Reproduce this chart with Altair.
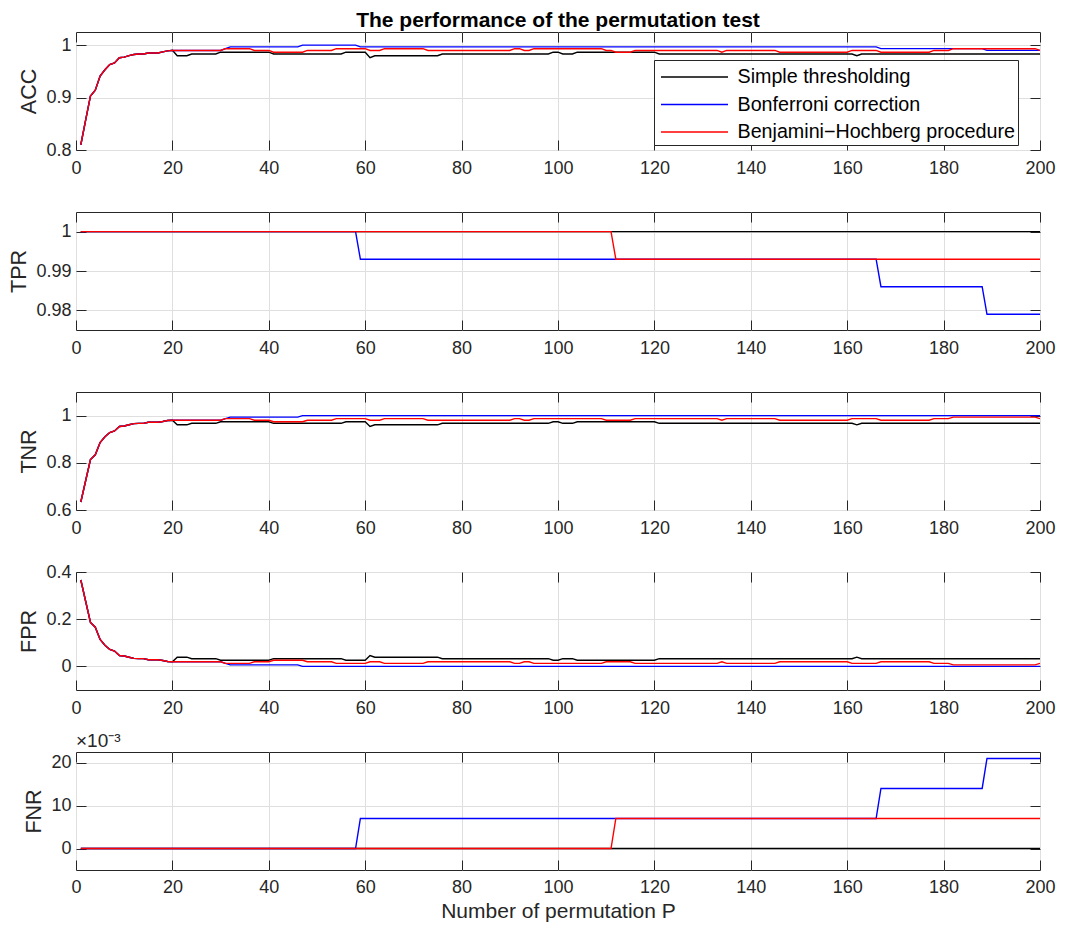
import altair as alt
import pandas as pd

FONT = "Liberation Sans"
SERIES = ["Simple thresholding", "Bonferroni correction", "Benjamini\u2212Hochberg procedure"]
COLORS = ["#000000", "#0000ff", "#ff0000"]
X_TICKS = [0, 20, 40, 60, 80, 100, 120, 140, 160, 180, 200]

# ---- shared early part (P = 1..20, all three methods coincide) ----
EARLY_P = [1, 2, 3, 4, 5, 6, 7, 8, 9, 10, 11, 12, 13, 14, 15, 16, 17, 18, 19, 20]
ACC_EARLY = [0.810, 0.857, 0.903, 0.914, 0.941, 0.953, 0.963, 0.966, 0.976, 0.977,
             0.980, 0.982, 0.983, 0.983, 0.985, 0.985, 0.985, 0.987, 0.989, 0.990]
TNR_EARLY = [0.634, 0.724, 0.814, 0.834, 0.886, 0.910, 0.928, 0.935, 0.954, 0.956,
             0.961, 0.966, 0.967, 0.967, 0.972, 0.972, 0.972, 0.975, 0.979, 0.980]
FPR_EARLY = [0.366, 0.276, 0.186, 0.166, 0.114, 0.090, 0.072, 0.065, 0.046, 0.044,
             0.039, 0.034, 0.033, 0.033, 0.028, 0.028, 0.028, 0.025, 0.021, 0.020]

# ---- ACC (P, value) after P = 20 ----
ACC_SIMPLE = [(21, 0.9797), (23, 0.9797), (24, 0.983), (29, 0.983), (30, 0.9865), (40, 0.9865),
              (41, 0.983), (55, 0.983), (56, 0.9865), (60, 0.9865), (61, 0.976), (62, 0.9797),
              (75, 0.9797), (76, 0.983), (98, 0.983), (99, 0.9865), (100, 0.9865), (101, 0.983),
              (103, 0.983), (104, 0.9865), (120, 0.9865), (121, 0.983), (161, 0.983), (162, 0.9797),
              (163, 0.983), (200, 0.983)]
ACC_BONF = [(30, 0.9898), (31, 0.9932), (32, 0.9966), (46, 0.9966), (47, 1.0), (58, 1.0),
            (59, 0.9966), (166, 0.9966), (167, 0.9933), (188, 0.9933), (189, 0.9899), (200, 0.9899)]
ACC_BH = [(30, 0.9898), (31, 0.9932), (36, 0.9932), (37, 0.9898), (40, 0.9898), (41, 0.9865),
          (47, 0.9865), (48, 0.9898), (53, 0.9898), (54, 0.9932), (60, 0.9932), (61, 0.9898),
          (63, 0.9898), (64, 0.9932), (72, 0.9932), (73, 0.9898), (90, 0.9898), (91, 0.9932),
          (92, 0.9932), (93, 0.9898), (94, 0.9898), (95, 0.9932), (109, 0.9932), (110, 0.9898),
          (111, 0.9898), (112, 0.9865), (115, 0.9865), (116, 0.9898), (133, 0.9898), (134, 0.9865),
          (135, 0.9898), (145, 0.9898), (146, 0.9865), (160, 0.9865), (161, 0.9898), (166, 0.9898),
          (167, 0.9865), (177, 0.9865), (178, 0.9898), (181, 0.9898), (182, 0.9932), (199, 0.9932),
          (200, 0.9898)]

# ---- TPR ----
TPR_SIMPLE = [(1, 1.0), (200, 1.0)]
TPR_BONF = [(1, 1.0), (58, 1.0), (59, 0.993), (166, 0.993), (167, 0.986), (188, 0.986),
            (189, 0.979), (200, 0.979)]
TPR_BH = [(1, 1.0), (111, 1.0), (112, 0.993), (200, 0.993)]

# ---- TNR (after P = 20) ----
TNR_SIMPLE = [(21, 0.961), (23, 0.961), (24, 0.9673), (29, 0.9673), (30, 0.974), (40, 0.974),
              (41, 0.9673), (55, 0.9673), (56, 0.974), (60, 0.974), (61, 0.954), (62, 0.961),
              (75, 0.961), (76, 0.9673), (98, 0.9673), (99, 0.974), (100, 0.974), (101, 0.9673),
              (103, 0.9673), (104, 0.974), (120, 0.974), (121, 0.9673), (161, 0.9673), (162, 0.961),
              (163, 0.9673), (200, 0.9673)]
TNR_BONF = [(30, 0.9804), (31, 0.987), (32, 0.9935), (46, 0.9935), (47, 1.0), (200, 1.0)]
TNR_BH = [(30, 0.9804), (31, 0.987), (36, 0.987), (37, 0.9804), (40, 0.9804), (41, 0.974),
          (47, 0.974), (48, 0.9804), (53, 0.9804), (54, 0.987), (60, 0.987), (61, 0.9804),
          (63, 0.9804), (64, 0.987), (72, 0.987), (73, 0.9804), (90, 0.9804), (91, 0.987),
          (92, 0.987), (93, 0.9804), (94, 0.9804), (95, 0.987), (109, 0.987), (110, 0.9804),
          (115, 0.9804), (116, 0.987), (133, 0.987), (134, 0.9804), (135, 0.987), (145, 0.987),
          (146, 0.9804), (160, 0.9804), (161, 0.987), (166, 0.987), (167, 0.9804), (177, 0.9804),
          (178, 0.987), (181, 0.987), (182, 0.9935), (199, 0.9935), (200, 0.987)]

# ---- FPR (after P = 20) ----
FPR_SIMPLE = [(21, 0.039), (23, 0.039), (24, 0.0327), (29, 0.0327), (30, 0.026), (40, 0.026),
              (41, 0.0327), (55, 0.0327), (56, 0.026), (60, 0.026), (61, 0.046), (62, 0.039),
              (75, 0.039), (76, 0.0327), (98, 0.0327), (99, 0.026), (100, 0.026), (101, 0.0327),
              (103, 0.0327), (104, 0.026), (120, 0.026), (121, 0.0327), (161, 0.0327), (162, 0.039),
              (163, 0.0327), (200, 0.0327)]
FPR_BONF = [(30, 0.0196), (31, 0.013), (32, 0.0065), (46, 0.0065), (47, 0.0), (200, 0.0)]
FPR_BH = [(30, 0.0196), (31, 0.013), (36, 0.013), (37, 0.0196), (40, 0.0196), (41, 0.026),
          (47, 0.026), (48, 0.0196), (53, 0.0196), (54, 0.013), (60, 0.013), (61, 0.0196),
          (63, 0.0196), (64, 0.013), (72, 0.013), (73, 0.0196), (90, 0.0196), (91, 0.013),
          (92, 0.013), (93, 0.0196), (94, 0.0196), (95, 0.013), (109, 0.013), (110, 0.0196),
          (115, 0.0196), (116, 0.013), (133, 0.013), (134, 0.0196), (135, 0.013), (145, 0.013),
          (146, 0.0196), (160, 0.0196), (161, 0.013), (166, 0.013), (167, 0.0196), (177, 0.0196),
          (178, 0.013), (181, 0.013), (182, 0.0065), (199, 0.0065), (200, 0.013)]

# ---- FNR (in units of 1e-3) ----
FNR_SIMPLE = [(1, 0), (200, 0)]
FNR_BONF = [(1, 0), (58, 0), (59, 7), (166, 7), (167, 14), (188, 14), (189, 21), (200, 21)]
FNR_BH = [(1, 0), (111, 0), (112, 7), (200, 7)]


def build(early, simple, bonf, bh):
    recs = []
    for s, pairs in zip(SERIES, [simple, bonf, bh]):
        pts = (list(zip(EARLY_P, early)) if early else []) + pairs
        for p, v in pts:
            recs.append({"series": s, "P": p, "value": v})
    return pd.DataFrame(recs)


FRAME = "#262626"
GRID = "#dfdfdf"
W, H = 964, 118
LW = 1.4
color_scale = alt.Scale(domain=SERIES, range=COLORS)


def panel(name, df, ydomain, yticks, yfmt, show_legend=False, title=None, xtitle=None,
          xlabel_pad=9):
    xs = alt.Scale(domain=[0, 200], nice=False, zero=False)
    ys = alt.Scale(domain=ydomain, nice=False, zero=False)
    if show_legend:
        leg = alt.Legend(orient="none", legendX=578, legendY=28, title=None,
                         symbolType="M-0.741,0L4.222,0", symbolSize=729, symbolStrokeWidth=LW,
                         labelOffset=52, labelFontSize=19.7, labelFont=FONT, labelColor="#000000",
                         padding=2.5, fillColor="#ffffff", strokeColor=FRAME, rowPadding=2.5,
                         labelLimit=0)
    else:
        leg = None
    x_bottom = alt.Axis(orient="bottom", values=X_TICKS, format="d", grid=True, gridColor=GRID,
                        domain=False, tickSize=10, tickColor=FRAME, offset=-10,
                        labelPadding=xlabel_pad, labelFontSize=18, labelFont=FONT,
                        labelColor=FRAME, labelFlush=False, labelOverlap=False, title=xtitle,
                        titleFontSize=21, titleFont=FONT, titleFontWeight="normal",
                        titleColor=FRAME, titlePadding=4)
    y_left = alt.Axis(orient="left", values=yticks, format=yfmt, grid=True, gridColor=GRID,
                      domain=False, tickSize=10, tickColor=FRAME, offset=-10, labelPadding=5,
                      labelFontSize=18, labelFont=FONT, labelColor=FRAME, labelFlush=False,
                      labelOverlap=False, title=name, titleFontSize=21.5, titleFont=FONT,
                      titleFontWeight="normal", titleColor=FRAME, titlePadding=5)
    x_top = alt.Axis(orient="top", values=X_TICKS, labels=False, grid=False, domain=False,
                     tickSize=10, tickColor=FRAME, offset=-10, title=None)
    y_right = alt.Axis(orient="right", values=yticks, labels=False, grid=False, domain=False,
                       tickSize=10, tickColor=FRAME, offset=-10, title=None)
    axes = [(x_bottom, y_left), (x_top, y_right), (None, None)]
    layers = []
    for s, (xa, ya) in zip(SERIES, axes):
        sub = df[df["series"] == s]
        layers.append(
            alt.Chart(sub).mark_line(strokeWidth=LW, clip=True).encode(
                x=alt.X("P:Q", scale=xs, axis=xa),
                y=alt.Y("value:Q", scale=ys, axis=ya),
                color=alt.Color("series:N", scale=color_scale, legend=leg),
            )
        )
    ch = alt.layer(*layers).resolve_axis(x="independent", y="independent")
    props = dict(width=W, height=H)
    if title is not None:
        props["title"] = title
    return ch.properties(**props)


acc = panel("ACC", build(ACC_EARLY, ACC_SIMPLE, ACC_BONF, ACC_BH), [0.8, 1.025], [0.8, 0.9, 1.0],
            ".1~f", show_legend=True,
            title=alt.TitleParams(text="The performance of the permutation test", anchor="middle",
                                  frame="group", fontSize=21, fontWeight="bold", font=FONT,
                                  color="#000000", offset=1))
tpr = panel("TPR", build(None, TPR_SIMPLE, TPR_BONF, TPR_BH), [0.975, 1.005], [0.98, 0.99, 1.0], ".2~f")
tnr = panel("TNR", build(TNR_EARLY, TNR_SIMPLE, TNR_BONF, TNR_BH), [0.6, 1.1], [0.6, 0.8, 1.0], ".1~f")
fpr = panel("FPR", build(FPR_EARLY, FPR_SIMPLE, FPR_BONF, FPR_BH), [-0.1, 0.4], [0.0, 0.2, 0.4], ".1~f")
fnr = panel("FNR", build(None, FNR_SIMPLE, FNR_BONF, FNR_BH), [-5, 22.5], [0, 10, 20], "d",
            title=alt.TitleParams(text="\u00d710\u207b\u00b3", anchor="start", frame="group",
                                  fontSize=19, fontWeight="normal", font=FONT, color=FRAME,
                                  offset=1),
            xtitle="Number of permutation P", xlabel_pad=8)

chart = alt.vconcat(acc, tpr, tnr, fpr, fnr, spacing=62, bounds="flush").resolve_scale(
    x="independent", y="independent"
).resolve_legend(color="independent").configure_view(
    stroke=FRAME, strokeWidth=1
).properties(
    padding={"left": 0, "top": 1, "right": 0, "bottom": 0},
    background="#ffffff",
)

chart.save("out.html", embed_options={"renderer": "svg", "actions": False})
